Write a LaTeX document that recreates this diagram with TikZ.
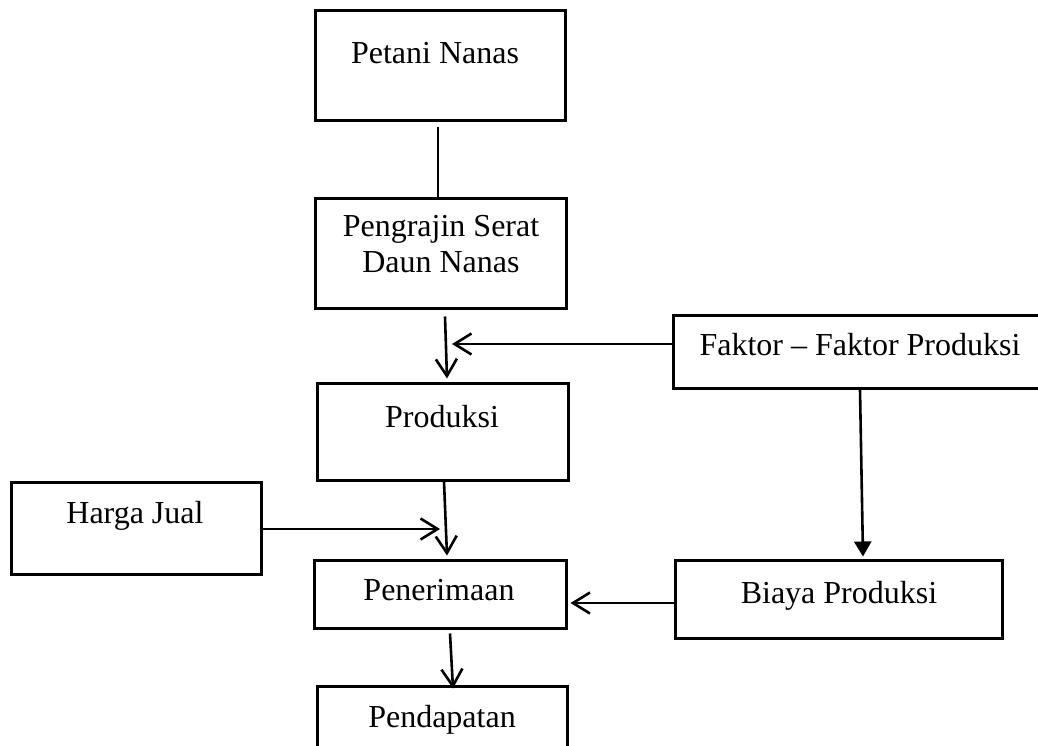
\documentclass[tikz,border=0pt]{standalone}
\usepackage{fontspec}
\setmainfont{Liberation Serif}
\usetikzlibrary{arrows.meta,calc}
\begin{document}
\begin{tikzpicture}[x=1pt,y=-1pt,
  box/.style={draw,line width=3pt,inner sep=0pt,minimum width=#1},
  lbl/.style={font=\fontsize{32}{36}\selectfont,inner sep=0pt,align=center},
  conn/.style={line width=2.6pt},
  openarr/.style={conn,-{Straight Barb[length=17pt,width=21pt,line width=2.6pt]}},
  fillarr/.style={conn,-{Triangle[length=15pt,width=17pt]}}]
\useasboundingbox (0,0) rectangle (1038,745);
\clip (0,0) rectangle (1038,745);
% boxes
\node[box=250pt,minimum height=110pt] (petani) at (440,65) {};
\node[box=251pt,minimum height=110pt] (pengrajin) at (440.5,253) {};
\node[box=251pt,minimum height=97pt] (produksi) at (442.5,431.5) {};
\node[box=372pt,minimum height=73pt] (faktor) at (859,351.5) {};
\node[box=250pt,minimum height=92pt] (harga) at (136,528) {};
\node[box=252pt,minimum height=68pt] (penerimaan) at (440,594) {};
\node[box=327pt,minimum height=78pt] (biaya) at (838.5,599) {};
\node[box=250pt,minimum height=74pt] (pendapatan) at (442,723) {};
% texts
\node[lbl,anchor=base] (petani-t) at (435,63) {Petani Nanas};
\node[lbl] (pengrajin-t) at (441,244) {Pengrajin Serat\\Daun Nanas};
\node[lbl,anchor=base] (produksi-t) at (442,427) {Produksi};
\node[lbl,anchor=base] (faktor-t) at (860,355) {Faktor – Faktor Produksi};
\node[lbl,anchor=base] (harga-t) at (135,523) {Harga Jual};
\node[lbl,anchor=base] (penerimaan-t) at (439,600) {Penerimaan};
\node[lbl,anchor=base] (biaya-t) at (839,603) {Biaya Produksi};
\node[lbl,anchor=base] (pendapatan-t) at (442,727) {Pendapatan};
% junction points
\coordinate (j1) at (452,344);
\coordinate (j2) at (440,529);
% connectors
\draw[conn] ($(petani.south)+(-2,5)$) -- ($(pengrajin.north)+(-2.5,0)$);
\draw[openarr] ($(pengrajin.south)+(4.5,7)$) -- ($(produksi.north)+(4.5,-3)$);
\draw[openarr] ($(faktor.west)+(0,-7.5)$) -- (j1);
\draw[openarr] ($(produksi.south)+(1.5,0)$) -- ($(penerimaan.north)+(7,-3)$);
\draw[openarr] ($(harga.east)+(0,1)$) -- (j2);
\draw[fillarr] ($(faktor.south)+(1,0)$) -- ($(biaya.north)+(24.5,-2)$);
\draw[openarr] ($(biaya.west)+(0,4)$) -- ($(penerimaan.east)+(3,9)$);
\draw[openarr] ($(penerimaan.south)+(10,4)$) -- ($(pendapatan.north)+(11,4)$);
\end{tikzpicture}
\end{document}
